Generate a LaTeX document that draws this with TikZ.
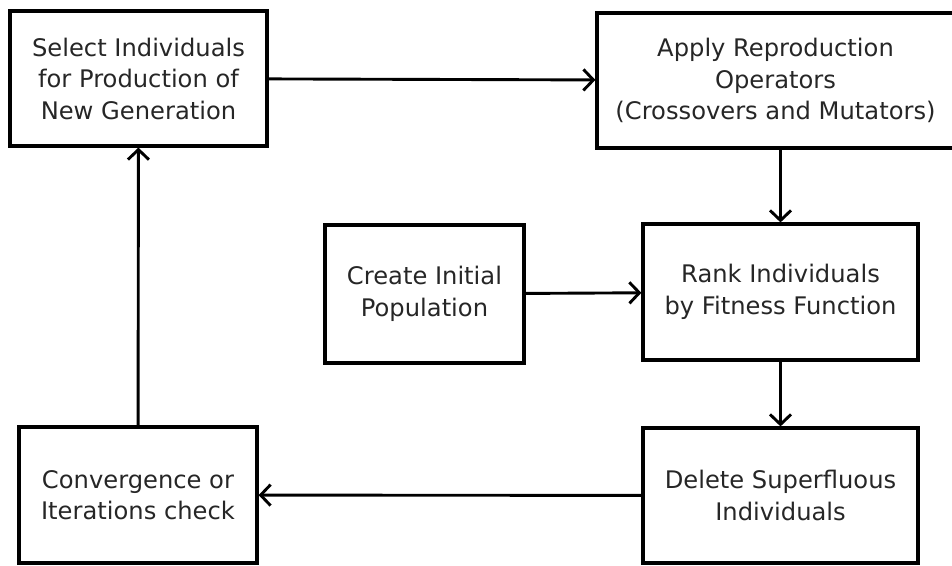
\documentclass[tikz,border=0pt]{standalone}
\usepackage{fontspec}
\setmainfont{DejaVu Sans}
\usetikzlibrary{arrows.meta}
\usetikzlibrary{positioning}
\usetikzlibrary{calc}

\begin{document}
\begin{tikzpicture}[x=1pt,y=-1pt,
    stage/.style={draw, line width=3.2pt, inner sep=0pt, align=center,
      text=black!85, font=\fontsize{24.2}{31.5}\selectfont},
    flow/.style={line width=2.9pt, -{Straight Barb[length=10pt,width=21pt,line width=2.9pt]}}]
      \path[use as bounding box] (0, 0) rectangle (952, 565);
      % boxes of the cycle
      \node[stage, minimum width=257pt, minimum height=135pt] (select) at (138.5, 78.5)
        {Select Individuals\\for Production of\\New Generation};
      \node[stage, minimum width=357pt, minimum height=135pt] (apply) at (775.5, 80.5)
        {Apply Reproduction\\Operators\\(Crossovers and Mutators)};
      \node[stage, minimum width=199pt, minimum height=138pt] (create) at (424.5, 294)
        {Create Initial\\Population};
      \node[stage, minimum width=275pt, minimum height=136pt] (rank) at (780.5, 292)
        {Rank Individuals\\by Fitness Function};
      \node[stage, minimum width=275pt, minimum height=135pt] (delete) at (780.5, 495.5)
        {Delete Superfluous\\Individuals};
      \node[stage, minimum width=238pt, minimum height=136pt] (check) at (138, 495)
        {Convergence or\\Iterations check};

      % connectors
      \draw[flow] (select) -- (apply);
      \draw[flow] (apply.south -| rank.north) -- (rank.north);
      \draw[flow] (create) -- (rank);
      \draw[flow] (rank) -- (delete);
      \draw[flow] (delete) -- (check);
      \draw[flow] (check) -- (select);
    \end{tikzpicture}
\end{document}
